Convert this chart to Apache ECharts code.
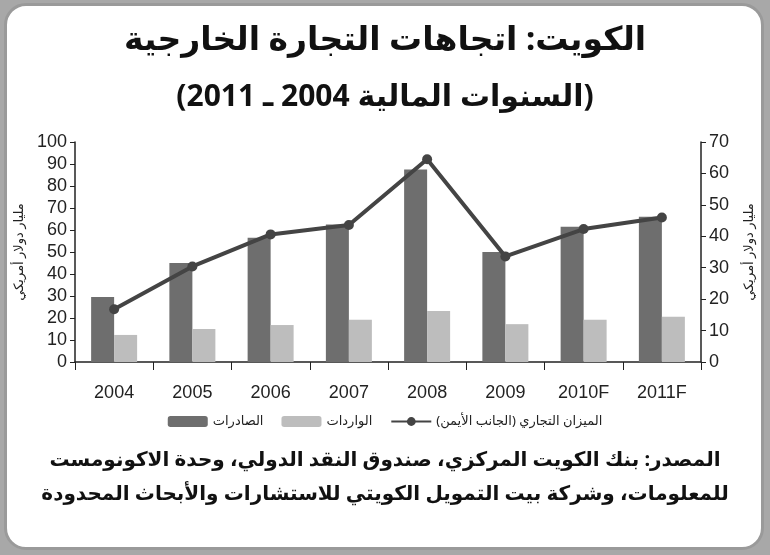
<!DOCTYPE html>
<html><head><meta charset="utf-8">
<script src="https://cdn.jsdelivr.net/npm/echarts@6/dist/echarts.min.js"></script>
<style>
html,body{margin:0;padding:0;width:770px;height:555px;background:#a8a8a8;overflow:hidden}
#frame{position:absolute;left:4px;top:3px;width:754px;height:541px;background:#fff;border:3px solid #9a9a9a;border-radius:22px}
#c{position:absolute;left:0;top:0;width:770px;height:555px}
</style></head><body>
<div id="frame"></div>
<div id="c"></div>
<script>
const categories=['2004','2005','2006','2007','2008','2009','2010F','2011F'];
const exportsVals=[29.5,45,56.5,62.5,87.5,50,61.5,66];
const importsVals=[12.3,15,16.8,19.2,23.2,17.2,19.2,20.6];
const balanceVals=[16.8,30.4,40.6,43.6,64.5,33.6,42.3,46];
const names=['الصادرات','الواردات','الميزان التجاري (الجانب الأيمن)'];
const unit='مليار دولار أمريكي';
const titleLines=['الكويت: اتجاهات التجارة الخارجية','(السنوات المالية 2004 ـ 2011)'];
const sourceLines=['المصدر: بنك الكويت المركزي، صندوق النقد الدولي، وحدة الاكونومست','للمعلومات، وشركة بيت التمويل الكويتي للاستشارات والأبحاث المحدودة'];
const ch=echarts.init(document.getElementById('c'));
const tf='"Noto Sans", "DejaVu Sans", sans-serif';
const ax={fontFamily:'"Liberation Sans", Arial, sans-serif',fontSize:18,color:'#222'};
ch.setOption({
 animation:false,
 graphic:[
  {type:'text',left:'center',top:24,style:{text:titleLines[0],font:'bold 33px '+tf,fill:'#111'}},
  {type:'text',left:'center',top:82,style:{text:titleLines[1],font:'bold 30px '+tf,fill:'#111'}},
  {type:'text',left:'center',top:450,style:{text:sourceLines[0],font:'bold 20px '+tf,fill:'#111'}},
  {type:'text',left:'center',top:484,style:{text:sourceLines[1],font:'bold 20px '+tf,fill:'#111'}}
 ],
 legend:{bottom:122,left:'center',itemWidth:40,itemHeight:11,itemGap:18,textStyle:{fontFamily:tf,fontSize:13,color:'#222'},data:names},
 grid:{left:75,right:69,top:142,bottom:193},
 xAxis:{type:'category',data:categories,axisLine:{lineStyle:{color:'#222',width:1.5}},axisTick:{show:true,length:8,lineStyle:{color:'#222'}},axisLabel:{...ax,margin:22}},
 yAxis:[
  {type:'value',min:0,max:100,interval:10,name:unit,nameLocation:'middle',nameGap:42,nameTextStyle:{fontFamily:tf,fontSize:13,color:'#222'},axisLine:{show:true,lineStyle:{color:'#222',width:1.5}},axisTick:{show:true,lineStyle:{color:'#222'}},splitLine:{show:false},axisLabel:ax},
  {type:'value',min:0,max:70,interval:10,name:unit,nameLocation:'middle',nameGap:42,nameRotate:90,nameTextStyle:{fontFamily:tf,fontSize:13,color:'#222'},axisLine:{show:true,lineStyle:{color:'#222',width:1.5}},axisTick:{show:true,lineStyle:{color:'#222'}},splitLine:{show:false},axisLabel:ax}
 ],
 series:[
  {name:names[0],type:'bar',data:exportsVals,barWidth:23,barGap:'0%',itemStyle:{color:'#6e6e6e'}},
  {name:names[1],type:'bar',data:importsVals,barWidth:23,itemStyle:{color:'#bdbdbd'}},
  {name:names[2],type:'line',yAxisIndex:1,data:balanceVals,symbol:'circle',symbolSize:10,lineStyle:{color:'#444',width:4},itemStyle:{color:'#444'}}
 ]
});
</script></body></html>
